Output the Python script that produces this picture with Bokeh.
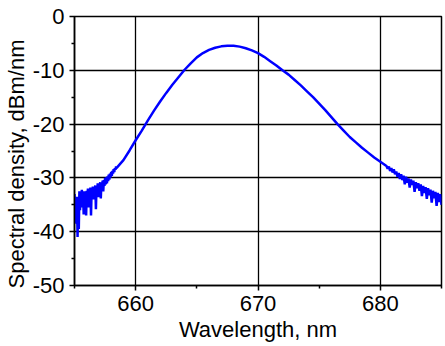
import numpy as np
from bokeh.plotting import figure
from bokeh.models import Range1d, FixedTicker, Title
from bokeh.embed import file_html
from bokeh.resources import INLINE

# Measured spectrum: noisy short-wavelength tail, smooth centre, noisy long-wavelength tail
wl_left = np.linspace(655.0, 658.45, 70)
psd_left = [
    -33.0, -36.5, -34.0, -38.5, -33.5, -41.0, -35.0, -39.5, -32.5, -36.0,
    -33.0, -35.5, -32.2, -34.8, -33.0, -36.8, -32.5, -34.5, -33.0, -37.0,
    -32.4, -34.0, -32.0, -35.5, -32.6, -33.8, -31.8, -37.0, -32.2, -33.5,
    -31.6, -34.0, -32.0, -33.2, -31.4, -35.8, -31.6, -32.8, -31.0, -33.6,
    -31.2, -32.4, -30.8, -33.8, -30.9, -31.9, -30.5, -32.5, -30.4, -31.5,
    -30.0, -31.2, -29.9, -31.0, -29.7, -30.6, -29.4, -30.3, -29.2, -29.9,
    -28.9, -29.6, -28.7, -29.2, -28.4, -28.9, -28.2, -28.5, -27.9, -28.2,
]

wl_mid = np.linspace(658.5, 680.5, 45)
psd_mid = [
    -28.0, -26.7, -24.9, -23.0, -21.2, -19.3, -17.5, -15.8, -14.2, -12.7,
    -11.3, -9.9, -8.7, -7.6, -6.8, -6.2, -5.8, -5.55, -5.45, -5.45,
    -5.6, -5.9, -6.3, -6.8, -7.5, -8.3, -9.1, -10.0, -10.8, -11.8,
    -12.8, -13.9, -15.0, -16.2, -17.4, -18.7, -20.0, -21.2, -22.4, -23.4,
    -24.4, -25.3, -26.2, -27.0, -27.8,
]

wl_right = np.linspace(680.6, 685.0, 45)
psd_right = [
    -28.3, -27.9, -28.7, -28.2, -29.0, -28.4, -29.3, -28.8, -29.8, -29.1,
    -30.2, -29.3, -30.4, -29.6, -31.2, -29.8, -30.9, -30.1, -31.8, -30.3,
    -31.3, -30.5, -32.6, -30.8, -31.9, -31.0, -32.4, -31.2, -33.4, -31.5,
    -32.8, -31.7, -33.9, -31.9, -33.2, -32.2, -34.6, -32.4, -33.8, -32.6,
    -35.2, -32.8, -34.5, -33.0, -35.0,
]

x_major = [660, 670, 680]
x_minor = [655, 665, 675, 685]
y_major = [-50, -40, -30, -20, -10, 0]
y_minor = [-45, -35, -25, -15, -5]
y_tick_text = {v: str(v) for v in y_major}

wavelength = np.concatenate([wl_left, wl_mid, wl_right])
density = np.concatenate([psd_left, psd_mid, psd_right])

FONT = "Liberation Sans"
SIZE = "22px"

p = figure(
    width=445, height=346,
    x_range=Range1d(655, 685), y_range=Range1d(-50, 0),
    output_backend="svg", toolbar_location=None,
    min_border_left=73, min_border_right=4,
    min_border_top=16, min_border_bottom=61,
)
p.background_fill_color = "white"
p.border_fill_color = "white"
p.outline_line_color = "black"
p.outline_line_width = 1.5

p.line(wavelength, density, line_color="#0000ff", line_width=2.5)

for ax in (p.xaxis[0], p.yaxis[0]):
    ax.axis_line_color = "black"
    ax.axis_line_width = 1.5
    ax.major_tick_line_color = "black"
    ax.major_tick_line_width = 1.5
    ax.minor_tick_line_color = "black"
    ax.minor_tick_line_width = 1.5
    ax.major_tick_in = 0
    ax.major_tick_out = 5
    ax.minor_tick_in = 0
    ax.minor_tick_out = 3
    ax.major_label_text_font = FONT
    ax.major_label_text_font_size = SIZE
    ax.major_label_text_color = "black"
    ax.axis_label_text_font = FONT
    ax.axis_label_text_font_size = SIZE
    ax.axis_label_text_font_style = "normal"
    ax.axis_label_text_color = "black"

p.xaxis.ticker = FixedTicker(ticks=x_major, minor_ticks=x_minor)
p.yaxis.ticker = FixedTicker(ticks=y_major, minor_ticks=y_minor)
p.yaxis.major_label_overrides = y_tick_text
p.xaxis.major_label_standoff = 5
p.yaxis.major_label_standoff = 5

p.xaxis.axis_label = "Wavelength, nm"
p.xaxis.axis_label_standoff = 3

# y label as a side title so it can start at the bottom of the frame
ytitle = Title(
    text="Spectral density, dBm/nm", align="left", offset=-3, standoff=2,
    text_font=FONT, text_font_size=SIZE, text_font_style="normal",
    text_color="black",
)
p.add_layout(ytitle, "left")

p.xgrid.ticker = FixedTicker(ticks=x_major)
p.ygrid.ticker = FixedTicker(ticks=y_major)
for g in (p.xgrid[0], p.ygrid[0]):
    g.grid_line_color = "black"
    g.grid_line_width = 1.3

open("out.html", "w").write(file_html(p, INLINE))
